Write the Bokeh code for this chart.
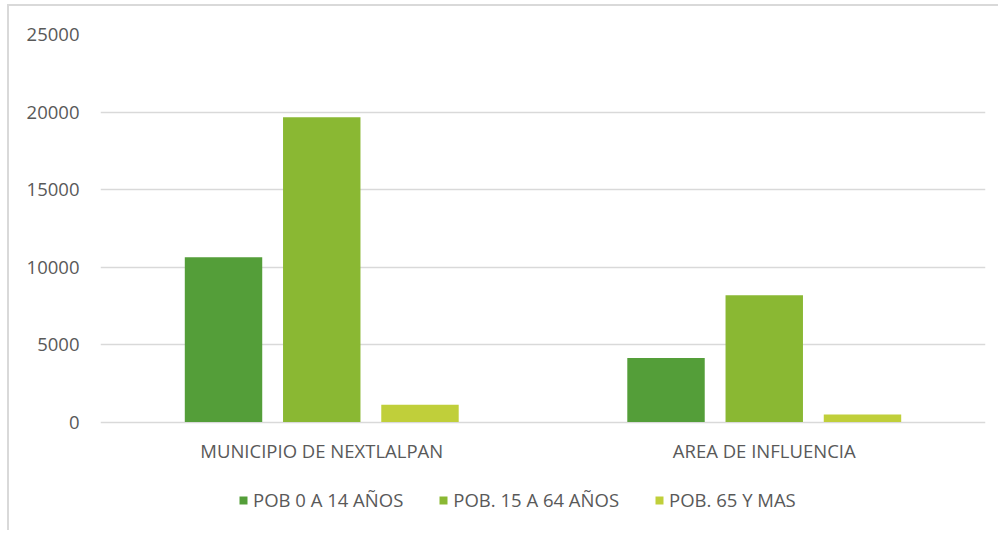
from bokeh.plotting import figure
from bokeh.models import FactorRange, Range1d, Legend, LegendItem, ColumnDataSource, FixedTicker
from bokeh.transform import dodge
from bokeh.core.properties import value
from bokeh.embed import file_html
from bokeh.resources import INLINE

categories = ["MUNICIPIO DE NEXTLALPAN", "AREA DE INFLUENCIA"]
series_names = ["POB 0 A 14 AÑOS", "POB. 15 A 64 AÑOS", "POB. 65 Y MAS"]
pob_0_14 = [10630, 4130]
pob_15_64 = [19660, 8175]
pob_65 = [1120, 490]
y_ticks = [0, 5000, 10000, 15000, 20000, 25000]
colors = ["#549E39", "#8AB833", "#C0CF3A"]

src = ColumnDataSource(dict(cat=categories, s0=pob_0_14, s1=pob_15_64, s2=pob_65,
                            base=[0] * len(categories)))

FONT = "Open Sans"
TXT = "#595959"
FS = "18.5px"

p = figure(width=991, height=526, x_range=FactorRange(*categories, range_padding=0),
           y_range=Range1d(-7129, 25000), output_backend="svg", toolbar_location=None,
           x_axis_location=None,
           min_border_left=91, min_border_right=15, min_border_top=28, min_border_bottom=0)
p.styles = {"margin-left": "7px", "margin-top": "4px",
            "border-left": "2px solid #d9d9d9", "border-top": "2px solid #d9d9d9"}

offsets = [-0.222, 0.0, 0.222]
renderers = []
for i, key in enumerate(["s0", "s1", "s2"]):
    r = p.vbar(x=dodge("cat", offsets[i], range=p.x_range), top=key, width=0.175,
               source=src, fill_color=colors[i], line_color=None)
    renderers.append(r)

# category labels under the zero line
p.text(x="cat", y="base", text="cat", source=src, text_align="center", text_baseline="middle",
       y_offset=28, text_font=value(FONT), text_font_size=FS, text_color=TXT)

p.outline_line_color = None
p.xgrid.grid_line_color = None
p.ygrid.grid_line_color = "#d9d9d9"
p.ygrid.grid_line_width = 1.5
p.yaxis.ticker = FixedTicker(ticks=y_ticks)
p.yaxis.axis_line_color = None
p.yaxis.major_tick_line_color = None
p.yaxis.minor_tick_line_color = None
p.yaxis.major_label_text_font = FONT
p.yaxis.major_label_text_color = TXT
p.yaxis.major_label_text_font_size = FS
p.yaxis.major_label_standoff = 15

legend = Legend(items=[LegendItem(label=series_names[i], renderers=[renderers[i]]) for i in range(3)],
                orientation="horizontal", location=(138, 20),
                label_text_font=FONT, label_text_color=TXT, label_text_font_size=FS,
                glyph_width=10, glyph_height=10, label_standoff=5, spacing=35,
                border_line_color=None, background_fill_alpha=0, margin=0, padding=0)
p.add_layout(legend, "center")

open("out.html", "w").write(file_html(p, INLINE))
